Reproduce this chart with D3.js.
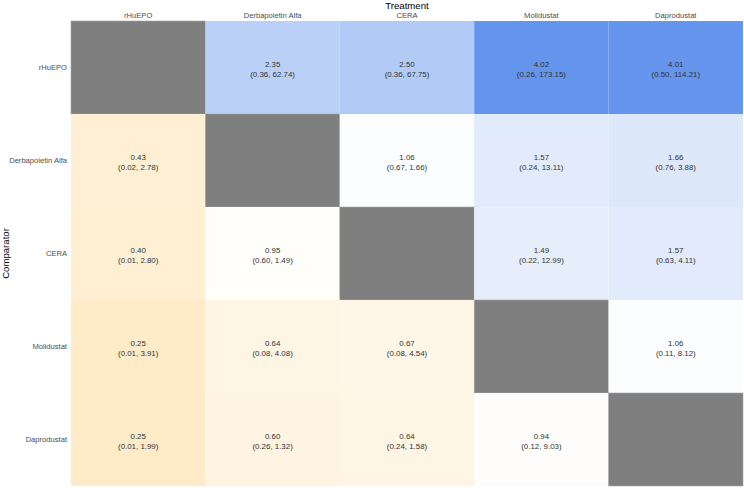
<!DOCTYPE html>
<meta charset="utf-8">
<style>
body { margin: 0; background: #fff; }
.tick_lab { font-family: 'Liberation Sans', Arial, sans-serif; font-size: 7.6px; fill: #4d4d4d; }
.cell_lab { font-family: 'Liberation Sans', Arial, sans-serif; font-size: 7.9px; fill: #333; }
.title_lab { font-family: 'Liberation Sans', Arial, sans-serif; font-size: 9.6px; fill: #000; }
</style>
<body>
<div id="plot"></div>
<script src="https://d3js.org/d3.v7.min.js"></script>
<script>

    // treatments (columns) and comparators (rows)
    var treatments = ["rHuEPO", "Derbapoietin Alfa", "CERA", "Molidustat", "Daprodustat"];
    var comparators = ["rHuEPO", "Derbapoietin Alfa", "CERA", "Molidustat", "Daprodustat"];

    // estimates, row = comparator, col = treatment (null on the diagonal)
    var estimates = [
        [null, 2.35, 2.50, 4.02, 4.01],
        [0.43, null, 1.06, 1.57, 1.66],
        [0.40, 0.95, null, 1.49, 1.57],
        [0.25, 0.64, 0.67, null, 1.06],
        [0.25, 0.60, 0.64, 0.94, null]
    ];
    var lower = [
        [null, 0.36, 0.36, 0.26, 0.50],
        [0.02, null, 0.67, 0.24, 0.76],
        [0.01, 0.60, null, 0.22, 0.63],
        [0.01, 0.08, 0.08, null, 0.11],
        [0.01, 0.26, 0.24, 0.12, null]
    ];
    var upper = [
        [null, 62.74, 67.75, 173.15, 114.21],
        [2.78, null, 1.66, 13.11, 3.88],
        [2.80, 1.49, null, 12.99, 4.11],
        [3.91, 4.08, 4.54, null, 8.12],
        [1.99, 1.32, 1.58, 9.03, null]
    ];

    var margin = {top: 21, right: 1, bottom: 2, left: 71},
        width = 744 - margin.left - margin.right,
        height = 488 - margin.top - margin.bottom;

    var svg = d3.select("#plot").append("svg")
        .attr("width", 744)
        .attr("height", 488)
        .append("g")
        .attr("transform", "translate(" + margin.left + "," + margin.top + ")");

    var x = d3.scaleBand().domain(treatments).range([0, width]);
    var y = d3.scaleBand().domain(comparators).range([0, height]);

    // diverging fill, white at 1
    var fill = d3.scaleLinear()
        .domain([0, 1, 4.02])
        .range(["#ffe4b5", "#ffffff", "#6495ed"])
        .clamp(true);

    var cells = [];
    comparators.forEach(function(r, i) {
        treatments.forEach(function(c, j) {
            cells.push({row: r, col: c, est: estimates[i][j], lo: lower[i][j], hi: upper[i][j]});
        });
    });

    // tiles
    svg.selectAll("rect.tile")
        .data(cells)
        .enter().append("rect")
        .attr("class", "tile")
        .attr("x", function(d) { return x(d.col); })
        .attr("y", function(d) { return y(d.row); })
        .attr("width", x.bandwidth())
        .attr("height", y.bandwidth())
        .style("fill", function(d) { return d.est == null ? "#7f7f7f" : fill(d.est); })
        .style("stroke", function(d) { return d.est == null ? "#a6a6a6" : "none"; })
        .style("stroke-width", 0.6);

    var filled = cells.filter(function(d) { return d.est != null; });

    // estimate
    svg.selectAll("text.est")
        .data(filled)
        .enter().append("text")
        .attr("class", "cell_lab")
        .attr("x", function(d) { return x(d.col) + x.bandwidth() / 2; })
        .attr("y", function(d) { return y(d.row) + y.bandwidth() / 2 - 1; })
        .attr("text-anchor", "middle")
        .text(function(d) { return d.est.toFixed(2); });

    // interval
    svg.selectAll("text.ci")
        .data(filled)
        .enter().append("text")
        .attr("class", "cell_lab")
        .attr("x", function(d) { return x(d.col) + x.bandwidth() / 2; })
        .attr("y", function(d) { return y(d.row) + y.bandwidth() / 2 + 9.8; })
        .attr("text-anchor", "middle")
        .text(function(d) { return "(" + d.lo.toFixed(2) + ", " + d.hi.toFixed(2) + ")"; });

    // top axis labels
    svg.selectAll("text.xlab")
        .data(treatments)
        .enter().append("text")
        .attr("class", "tick_lab")
        .attr("x", function(d) { return x(d) + x.bandwidth() / 2; })
        .attr("y", -3)
        .attr("text-anchor", "middle")
        .text(function(d) { return d; });

    // left axis labels
    svg.selectAll("text.ylab")
        .data(comparators)
        .enter().append("text")
        .attr("class", "tick_lab")
        .attr("x", -4)
        .attr("y", function(d) { return y(d) + y.bandwidth() / 2 + 2.7; })
        .attr("text-anchor", "end")
        .text(function(d) { return d; });

    // axis titles
    svg.append("text")
        .attr("class", "title_lab")
        .attr("x", width / 2)
        .attr("y", -12)
        .attr("text-anchor", "middle")
        .text("Treatment");

    svg.append("text")
        .attr("class", "title_lab")
        .attr("transform", "rotate(-90)")
        .attr("x", -height / 2)
        .attr("y", -margin.left + 9)
        .attr("text-anchor", "middle")
        .text("Comparator");

</script>
</body>
